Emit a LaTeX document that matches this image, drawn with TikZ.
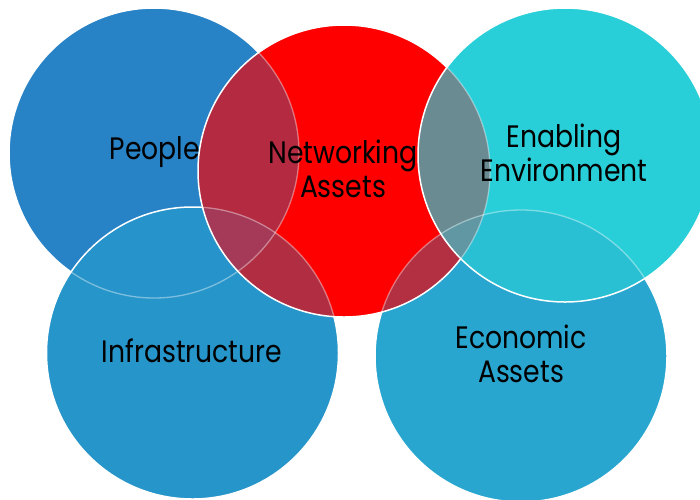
\documentclass[tikz,border=0pt]{standalone}
\usepackage{fontspec}
\setmainfont[FakeStretch=0.86]{Poppins}
\definecolor{colP}{HTML}{2882C6}
\definecolor{colI}{HTML}{2695C9}
\definecolor{colE}{HTML}{29A6CF}
\definecolor{colR}{HTML}{FF0000}
\definecolor{colC}{HTML}{29CFD8}
\definecolor{colPI}{HTML}{2693CA}
\definecolor{colPR}{HTML}{B32A41}
\definecolor{colIR}{HTML}{B12E42}
\definecolor{colPIR}{HTML}{A43A58}
\definecolor{colER}{HTML}{B32F42}
\definecolor{colCR}{HTML}{6B8B92}
\definecolor{colCE}{HTML}{29C0D4}
\definecolor{colCER}{HTML}{6097A2}
\def\cP{(154,153) circle[radius=145pt]}
\def\cR{(344,171) circle[radius=146pt]}
\def\cC{(565,155) circle[radius=147pt]}
\def\cI{(192.5,353) circle[radius=146pt]}
\def\cE{(521,356) circle[radius=146pt]}
\tikzset{
  edge/.style={draw=white, line width=1.5pt},
  pale/.style={draw=white, draw opacity=0.4, line width=1.3pt},
  lbl/.style={font=\fontsize{31}{34}\selectfont, align=center, text=black, inner sep=0pt}
}
\begin{document}
\begin{tikzpicture}[x=1pt,y=-1pt]
\useasboundingbox (0,0) rectangle (700,499);
\clip (0,0) rectangle (700,499);
% People
\fill[colP] \cP;
\draw[edge] \cP;
% Infrastructure
\fill[colI] \cI;
\begin{scope}
  \clip \cI;
  \fill[colPI] \cP;
  \draw[pale] \cP;
\end{scope}
\draw[edge] \cI;
% Economic
\fill[colE] \cE;
\draw[edge] \cE;
% Networking (red)
\fill[colR] \cR;
\begin{scope}
  \clip \cR;
  \fill[colPR] \cP;
  \fill[colIR] \cI;
  \fill[colER] \cE;
  \begin{scope}
    \clip \cP;
    \fill[colPIR] \cI;
  \end{scope}
  \draw[pale] \cP;
  \draw[pale] \cI;
  \draw[pale] \cE;
\end{scope}
\draw[edge] \cR;
% Enabling (cyan)
\fill[colC] \cC;
\begin{scope}
  \clip \cC;
  \fill[colCR] \cR;
  \fill[colCE] \cE;
  \begin{scope}
    \clip \cR;
    \fill[colCER] \cE;
  \end{scope}
  \draw[pale] \cR;
  \draw[pale] \cE;
\end{scope}
\draw[edge] \cC;
% labels
\node[lbl] (people) at (155,152) {People};
\node[lbl] (networking) at (343,169) {Networking\\Assets};
\node[lbl] (enabling) at (564,153) {Enabling\\Environment};
\node[lbl] (infra) at (192,351) {Infrastructure};
\node[lbl] (economic) at (521,354) {Economic\\Assets};
\end{tikzpicture}
\end{document}
